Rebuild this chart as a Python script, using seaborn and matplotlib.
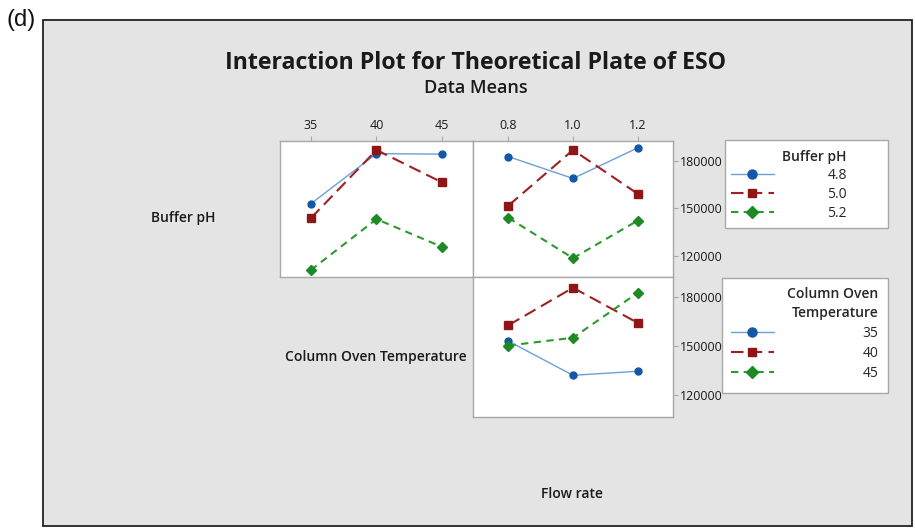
import matplotlib
matplotlib.use("Agg")
import matplotlib.pyplot as plt
from matplotlib.patches import Rectangle
from matplotlib.lines import Line2D
import seaborn as sns
import pandas as pd

# ---- data ----
temp_levels = ["35", "40", "45"]
flow_levels = ["0.8", "1.0", "1.2"]
ph_levels = ["4.8", "5.0", "5.2"]
temp_groups = ["35", "40", "45"]

ph48_vs_temp = [152800, 184500, 184200]
ph50_vs_temp = [143700, 186800, 166300]
ph52_vs_temp = [110900, 143100, 125500]

ph48_vs_flow = [182600, 168800, 188100]
ph50_vs_flow = [151700, 186800, 159200]
ph52_vs_flow = [143900, 118400, 142100]

t35_vs_flow = [153100, 132100, 134600]
t40_vs_flow = [162900, 185900, 164400]
t45_vs_flow = [150400, 155200, 182700]

y_ticks = [120000, 150000, 180000]


def long_df(levels, groups, series):
    rows = []
    for g, vals in zip(groups, series):
        for lv, v in zip(levels, vals):
            rows.append({"level": lv, "group": g, "value": v})
    return pd.DataFrame(rows)


df_tl = long_df(temp_levels, ph_levels, [ph48_vs_temp, ph50_vs_temp, ph52_vs_temp])
df_tr = long_df(flow_levels, ph_levels, [ph48_vs_flow, ph50_vs_flow, ph52_vs_flow])
df_br = long_df(flow_levels, temp_groups, [t35_vs_flow, t40_vs_flow, t45_vs_flow])

# ---- styles ----
sns.set_theme(style="white")
plt.rcParams["font.family"] = ["Open Sans", "DejaVu Sans"]

marker_cols = ["#1457a8", "#8e1616", "#1d8a24"]
line_cols = ["#6b9fd6", "#9e2020", "#2a9a2a"]
markers = ["o", "s", "D"]
msizes = [5.0, 5.3, 5.5]
leg_msizes = [6.5, 6.0, 6.5]
lws = [1.0, 1.5, 1.5]
dashes = ["-", (0, (6, 3)), (0, (3.5, 2.6))]
edge_gray = "#a8a8a8"
text_col = "#1a1a1a"

W, H = 915, 529
fig = plt.figure(figsize=(W / 100, H / 100), dpi=100)
fig.patch.set_facecolor("white")

# gray background box with black border
fig.patches.append(Rectangle((43 / W, 1 - 526 / H), 869 / W, 506 / H,
                             transform=fig.transFigure, facecolor="#e4e4e4",
                             edgecolor="#222222", linewidth=1.3, zorder=-5))


def fig_rect(x0, y0, x1, y1):
    return [x0 / W, 1 - y1 / H, (x1 - x0) / W, (y1 - y0) / H]


ax_tl = fig.add_axes(fig_rect(280, 141, 473, 277))
ax_tr = fig.add_axes(fig_rect(473, 141, 673, 277))
ax_br = fig.add_axes(fig_rect(473, 277, 673, 417))
for ax in (ax_tl, ax_tr, ax_br):
    ax.set_zorder(2)

ylim = (106500, 192500)


def draw(ax, df, order, hue_order):
    sns.pointplot(data=df, x="level", y="value", hue="group", order=order,
                  hue_order=hue_order, palette=marker_cols, markers=markers,
                  linestyles=["-", "-", "-"], errorbar=None, legend=False, ax=ax)
    for i, ln in enumerate(ax.lines[:3]):
        ln.set_color(line_cols[i])
        ln.set_linestyle(dashes[i])
        ln.set_linewidth(lws[i])
        ln.set_markerfacecolor(marker_cols[i])
        ln.set_markeredgecolor(marker_cols[i])
        ln.set_markeredgewidth(1.0)
        ln.set_markersize(msizes[i])
    ax.set_ylim(*ylim)
    ax.set_facecolor("white")
    for s in ax.spines.values():
        s.set_color(edge_gray)
        s.set_linewidth(1.0)
    ax.set_xlabel("")
    ax.set_ylabel("")


draw(ax_tl, df_tl, temp_levels, ph_levels)
draw(ax_tr, df_tr, flow_levels, ph_levels)
draw(ax_br, df_br, flow_levels, temp_groups)

ax_tl.set_xlim(-0.47, 2.47)
ax_tr.set_xlim(-0.55, 2.55)
ax_br.set_xlim(-0.55, 2.55)

tick_kw = dict(colors=edge_gray, labelcolor=text_col, length=3.5, width=0.8, labelsize=9)
for ax in (ax_tl, ax_tr):
    ax.xaxis.tick_top()
    ax.tick_params(axis="x", pad=3, **tick_kw)
ax_br.set_xticks([])

ax_tl.set_yticks([])
for ax in (ax_tr, ax_br):
    ax.set_yticks(y_ticks)
    ax.set_yticklabels([str(t) for t in y_ticks])
    ax.yaxis.tick_right()
    ax.tick_params(axis="y", pad=1.5, **tick_kw)

# ---- titles and labels ----
fig.text(476 / W, 1 - 63 / H, "Interaction Plot for Theoretical Plate of ESO",
         ha="center", va="center", fontsize=16.7, fontweight="bold", color=text_col)
fig.text(476 / W, 1 - 88 / H, "Data Means", ha="center", va="center",
         fontsize=13, fontweight="semibold", color=text_col)
fig.text(183 / W, 1 - 218 / H, "Buffer pH", ha="center", va="center",
         fontsize=10, fontweight="semibold", color=text_col)
fig.text(376 / W, 1 - 357 / H, "Column Oven Temperature", ha="center", va="center",
         fontsize=10, fontweight="semibold", color=text_col)
fig.text(572 / W, 1 - 494 / H, "Flow rate", ha="center", va="center",
         fontsize=10, fontweight="semibold", color=text_col)
fig.text(7 / W, 1 - 20 / H, "(d)", ha="left", va="center", fontsize=17,
         family=["Liberation Sans", "DejaVu Sans"], color="#111111")


# ---- legends ----
def handles():
    return [Line2D([], [], color=line_cols[i], linestyle=dashes[i], linewidth=lws[i],
                   marker=markers[i], markersize=leg_msizes[i],
                   markerfacecolor=marker_cols[i], markeredgecolor=marker_cols[i])
            for i in range(3)]


fig.patches.append(Rectangle((725 / W, 1 - 228 / H), 163 / W, 88 / H,
                             transform=fig.transFigure, facecolor="white",
                             edgecolor=edge_gray, linewidth=1.0, zorder=1))
fig.patches.append(Rectangle((722 / W, 1 - 393 / H), 166 / W, 115 / H,
                             transform=fig.transFigure, facecolor="white",
                             edgecolor=edge_gray, linewidth=1.0, zorder=1))

leg1 = fig.legend(handles(), ph_levels, title="Buffer pH", loc="upper left",
                  bbox_to_anchor=(719 / W, 1 - 138 / H), frameon=False,
                  handlelength=3.1, handletextpad=3.85, labelspacing=0.3,
                  fontsize=10, borderpad=0.35, alignment="right")
leg1.get_title().set_fontsize(10)
leg1.get_title().set_fontweight("semibold")

leg2 = fig.legend(handles(), temp_groups, title="Column Oven\nTemperature", loc="upper left",
                  bbox_to_anchor=(719 / W, 1 - 275 / H), frameon=False,
                  handlelength=3.1, handletextpad=6.4, labelspacing=0.38,
                  fontsize=10, borderpad=0.35, alignment="right")
leg2.get_title().set_fontsize(10)
leg2.get_title().set_fontweight("semibold")
leg2.get_title().set_multialignment("right")
leg2.get_title().set_linespacing(1.5)

fig.savefig("out.png", dpi=100)
